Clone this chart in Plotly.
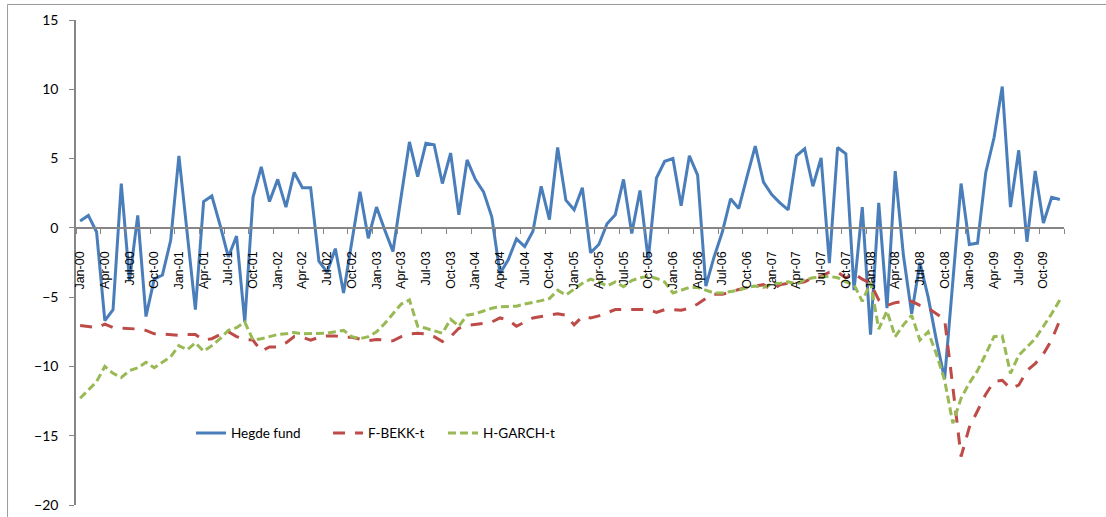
import plotly.graph_objects as go

years = ["00", "01", "02", "03", "04", "05", "06", "07", "08", "09"]
month_names = ["Jan", "Feb", "Mar", "Apr", "May", "Jun", "Jul", "Aug", "Sep", "Oct", "Nov", "Dec"]
categories = [f"{m}-{y}" for y in years for m in month_names]

hedge_fund = [
    0.5, 0.9, -0.3, -6.7, -5.9, 3.2, -3.8, 0.9, -6.4, -3.7, -3.4, -0.9,
    5.2, -0.3, -5.9, 1.9, 2.3, 0.2, -2.1, -0.6, -6.8, 2.2, 4.4, 1.9,
    3.5, 1.5, 4.0, 2.9, 2.9, -2.4, -3.2, -1.5, -4.7, -1.0, 2.6, -0.75,
    1.5, -0.15, -1.7, 2.3, 6.2, 3.7, 6.1, 6.0, 3.2, 5.4, 0.95, 4.9,
    3.5, 2.6, 0.8, -3.3, -2.3, -0.8, -1.35, -0.25, 3.0, 0.6, 5.8, 2.0,
    1.3, 2.9, -1.8, -1.2, 0.3, 0.95, 3.5, -0.4, 2.7, -2.3, 3.6, 4.8,
    5.0, 1.6, 5.2, 3.8, -4.2, -2.1, -0.3, 2.1, 1.4, 3.7, 5.9, 3.3,
    2.4, 1.8, 1.3, 5.2, 5.7, 3.0, 5.05, -2.55, 5.8, 5.35, -4.5, 1.5,
    -7.7, 1.8, -5.8, 4.1, -2.0, -6.2, -2.5, -5.0, -8.1, -10.9, -4.0, 3.2,
    -1.2, -1.1, 4.0, 6.5, 10.2, 1.5, 5.6, -1.0, 4.1, 0.35, 2.2, 2.05,
]

f_bekk_t = [
    -7.05, -7.1, -7.2, -6.95, -7.2, -7.25, -7.25, -7.3, -7.4, -7.65, -7.65, -7.7,
    -7.75, -7.7, -7.7, -8.1, -8.0, -7.7, -7.5, -7.85, -8.05, -8.1, -8.9, -8.6,
    -8.6, -8.3, -7.85, -7.9, -8.1, -7.9, -7.8, -7.8, -7.9, -7.9, -8.05, -8.15,
    -8.05, -8.1, -8.15, -7.85, -7.65, -7.6, -7.65, -7.85, -8.2, -7.85, -7.25, -7.05,
    -7.0, -6.9, -6.8, -6.5, -6.65, -7.1, -6.8, -6.5, -6.4, -6.3, -6.2, -6.3,
    -7.0, -6.4, -6.5, -6.35, -6.1, -5.9, -5.9, -5.9, -5.85, -5.9, -6.1, -5.9,
    -5.9, -5.95, -5.8, -5.5, -5.1, -4.8, -4.8, -4.6, -4.45, -4.3, -4.2, -4.1,
    -4.5, -4.1, -4.0, -4.0, -3.9, -3.6, -3.5, -3.2, -3.2, -3.6, -3.3, -3.7,
    -4.0, -5.2, -5.6, -5.4, -5.3, -5.3, -5.6, -5.8, -6.2, -6.6, -11.5, -16.5,
    -14.4, -13.2, -12.0, -11.1, -11.0, -11.6, -11.35, -10.3, -9.8, -9.1, -8.1, -6.65,
]

h_garch_t = [
    -12.3, -11.7, -11.1, -10.0, -10.5, -10.8, -10.3, -10.1, -9.7, -10.1, -9.7, -9.3,
    -8.5, -8.8, -8.3, -8.9, -8.5, -8.0, -7.4, -7.2, -6.8, -8.1, -8.0, -7.85,
    -7.7, -7.65, -7.55, -7.65, -7.65, -7.65, -7.6, -7.5, -7.4, -7.85, -8.0, -7.85,
    -7.5, -6.9, -6.2, -5.5, -5.2, -7.1, -7.25, -7.4, -7.6, -6.6, -7.1, -6.3,
    -6.2, -6.0, -5.8, -5.7, -5.7, -5.65, -5.5, -5.4, -5.25, -5.1, -4.5, -4.85,
    -4.45, -4.0, -3.7, -3.9, -4.2, -3.9, -4.25, -3.8, -3.6, -3.5, -3.65, -3.9,
    -4.7, -4.5, -4.3, -4.3, -4.5, -4.7, -4.7, -4.6, -4.5, -4.3, -4.2, -4.3,
    -4.05, -4.0, -3.9, -4.05, -3.75, -3.6, -3.55, -3.5, -3.6, -3.9, -4.1, -5.3,
    -3.95, -7.3, -6.0, -7.85, -7.0, -6.3, -8.1, -7.5, -9.1, -11.0, -14.1, -12.3,
    -11.2, -10.3, -9.1, -7.85, -7.8, -10.5, -9.2, -8.6, -8.0, -7.1, -6.2, -5.2,
]

y_ticks = [15, 10, 5, 0, -5, -10, -15, -20]

x_idx = list(range(len(categories)))
label_idx = x_idx[::3]
label_text = categories[::3]
boundary_ticks = [i - 0.5 for i in range(0, len(categories) + 1, 3)]

fig = go.Figure()
# invisible helper trace so the label axis (x2) gets its own subplot
fig.add_trace(go.Scatter(x=x_idx, y=hedge_fund, xaxis="x2", yaxis="y", mode="lines",
                         line=dict(color="rgba(0,0,0,0)", width=0), showlegend=False,
                         hoverinfo="skip"))
fig.add_trace(go.Scatter(x=x_idx, y=hedge_fund, mode="lines", name="Hegde fund",
                         legend="legend",
                         line=dict(color="#4A7EBB", width=3)))
fig.add_trace(go.Scatter(x=x_idx, y=f_bekk_t, mode="lines", name="F-BEKK-t",
                         legend="legend2",
                         line=dict(color="#BE4B48", width=3, dash="12px,10px")))
fig.add_trace(go.Scatter(x=x_idx, y=h_garch_t, mode="lines", name="H-GARCH-t",
                         legend="legend3",
                         line=dict(color="#98B954", width=3, dash="8px,4px")))

axis_gray = "#868686"
zero_pos = (0 - (-20)) / 35.0
label_pos = zero_pos - 20.0 / 485.0
legend_font = dict(family="Lato, sans-serif", size=13.5, color="black")


def legend_at(xp):
    return dict(orientation="h", x=xp, y=0.148, xanchor="left", yanchor="middle",
                font=legend_font, bgcolor="rgba(0,0,0,0)")


x_range = [-0.5, len(categories) - 0.5]

fig.update_layout(
    width=1106, height=517,
    margin=dict(l=76, r=42, t=20, b=12, autoexpand=False),
    paper_bgcolor="white", plot_bgcolor="white",
    showlegend=True,
    legend=legend_at(0.1164),
    legend2=legend_at(0.2551),
    legend3=legend_at(0.3715),
    xaxis=dict(
        range=x_range, automargin=False,
        anchor="free", position=zero_pos,
        showline=True, linecolor=axis_gray, linewidth=1.5,
        showgrid=False, zeroline=False,
        tickmode="array", tickvals=boundary_ticks,
        ticks="outside", ticklen=5, tickcolor=axis_gray, tickwidth=1,
        showticklabels=False,
    ),
    xaxis2=dict(
        range=x_range, overlaying="x", side="bottom", automargin=False,
        anchor="free", position=label_pos,
        showline=False, showgrid=False, zeroline=False,
        tickmode="array", tickvals=label_idx, ticktext=label_text,
        ticks="", tickangle=-90,
        tickfont=dict(family="Liberation Sans, Arial, sans-serif", size=12.5, color="black"),
    ),
    yaxis=dict(
        range=[-20, 15], automargin=False,
        showline=True, linecolor=axis_gray, linewidth=1.5,
        showgrid=False, zeroline=False,
        tickmode="array", tickvals=y_ticks,
        ticks="outside", ticklen=5, tickcolor=axis_gray,
        ticklabelstandoff=8,
        tickfont=dict(family="Lato, sans-serif", size=14, color="black"),
    ),
    shapes=[
        dict(type="line", xref="paper", yref="paper", x0=-0.0693, x1=-0.0693, y0=-0.2, y1=1.032,
             line=dict(color="#9A9A9A", width=1)),
        dict(type="line", xref="paper", yref="paper", x0=-0.0693, x1=1.2, y0=1.032, y1=1.032,
             line=dict(color="#9A9A9A", width=1)),
    ],
)

fig.write_html("out.html", config={"displayModeBar": False},
               post_script="document.body.style.margin='0px';")
